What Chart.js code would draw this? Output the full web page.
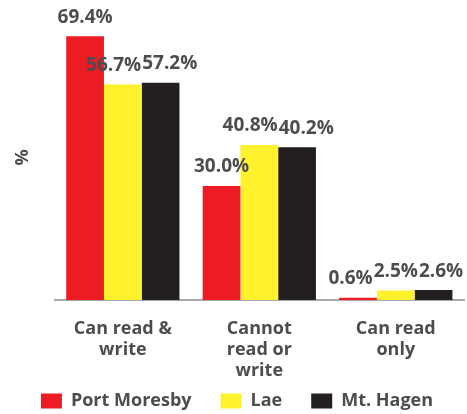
<!DOCTYPE html>
<html>
<head>
<meta charset="utf-8">
<script src="https://cdn.jsdelivr.net/npm/chart.js@4"></script>
<style>
  html, body { margin: 0; padding: 0; background: #fff; }
  #wrap { width: 467px; height: 414px; }
</style>
</head>
<body>
<div id="wrap"><canvas id="literacyChart"></canvas></div>
<script>
var categories = [['Can read &', 'write'], ['Cannot', 'read or', 'write'], ['Can read', 'only']];
var portMoresby = [69.4, 30.0, 0.6];
var lae = [56.7, 40.8, 2.5];
var mtHagen = [57.2, 40.2, 2.6];

var textGrey = '#4d4d4f';

// draws the "xx.x%" value above each bar, nudging neighbours apart
// sideways when they sit at about the same height
var valueLabels = {
    id: 'valueLabels',
    afterDatasetsDraw: function (chart) {
        var ctx = chart.ctx;
        ctx.save();
        ctx.font = 'bold 19px "Open Sans"';
        ctx.fillStyle = textGrey;
        ctx.textAlign = 'center';
        ctx.textBaseline = 'middle';
        var n = chart.data.labels.length;
        for (var j = 0; j < n; j++) {
            var row = chart.data.datasets.map(function (ds, i) {
                var bar = chart.getDatasetMeta(i).data[j];
                var txt = ds.data[j].toFixed(1) + '%';
                return { txt: txt, x: bar.x, y: bar.y - 19, w: ctx.measureText(txt).width };
            });
            for (var pass = 0; pass < 6; pass++) {
                for (var k = 0; k < row.length - 1; k++) {
                    var a = row[k], b = row[k + 1];
                    if (Math.abs(a.y - b.y) > 18) continue;
                    var over = (a.w + b.w) / 2 + 1 - (b.x - a.x);
                    if (over > 0) { a.x -= over / 2; b.x += over / 2; }
                }
            }
            row.forEach(function (l) { ctx.fillText(l.txt, l.x, l.y); });
        }
        ctx.restore();
    }
};

// legend padding is big for the horizontal gaps, so pull the legend up
// into the space below the last x label line (and widen its clip box)
var liftLegend = {
    id: 'liftLegend',
    afterLayout: function (chart) {
        chart.legend.top -= 19;
        chart.legend.bottom = chart.height;
    }
};

document.addEventListener('DOMContentLoaded', function () {
    var ctx = document.getElementById('literacyChart').getContext('2d');
    new Chart(ctx, {
        type: 'bar',
        data: {
            labels: categories,
            datasets: [
                { label: 'Port Moresby', data: portMoresby, backgroundColor: '#ed1c24' },
                { label: 'Lae', data: lae, backgroundColor: '#fff22d' },
                { label: 'Mt. Hagen', data: mtHagen, backgroundColor: '#231f20' }
            ]
        },
        options: {
            responsive: true,
            maintainAspectRatio: false,
            animation: false,
            layout: { padding: { top: 15, left: 10, right: 3, bottom: 0 } },
            datasets: { bar: { barPercentage: 1, categoryPercentage: 0.83 } },
            scales: {
                x: {
                    grid: { display: false, drawTicks: false },
                    border: { display: true, color: '#a7a9ac', width: 2 },
                    ticks: {
                        color: textGrey,
                        font: { family: 'Open Sans', size: 18, weight: 'bold', lineHeight: 1.15 },
                        padding: 19,
                        maxRotation: 0
                    },
                    afterFit: function (scale) { scale.height = 82; }
                },
                y: {
                    min: 0,
                    max: 75,
                    grid: { display: false },
                    border: { display: false },
                    ticks: { display: false },
                    title: {
                        display: true,
                        text: '%',
                        color: textGrey,
                        font: { family: 'Open Sans', size: 18, weight: 'bold' },
                        padding: { top: 2, bottom: 13 }
                    }
                }
            },
            plugins: {
                legend: {
                    position: 'bottom',
                    maxHeight: 32,
                    labels: {
                        color: textGrey,
                        font: { family: 'Open Sans', size: 18, weight: 'bold' },
                        boxWidth: 21,
                        boxHeight: 15,
                        padding: 29
                    }
                },
                tooltip: { enabled: false }
            }
        },
        plugins: [valueLabels, liftLegend]
    });
});
</script>
</body>
</html>
